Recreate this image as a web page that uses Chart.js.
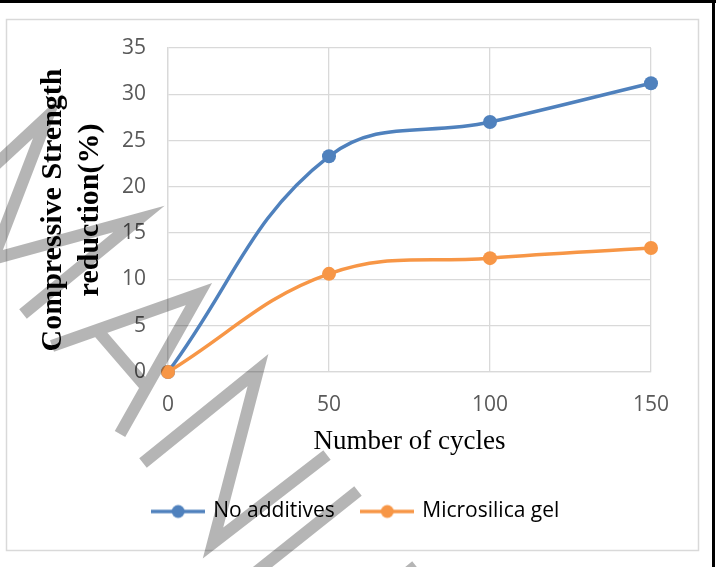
<!DOCTYPE html>
<html>
<head>
<meta charset="utf-8">
<script src="https://cdn.jsdelivr.net/npm/chart.js@4.4.0/dist/chart.umd.min.js"></script>
<style>
  html, body { margin: 0; padding: 0; background: #fff; }
  #wrap { width: 718px; height: 567px; }
</style>
</head>
<body>
<div id="wrap"><canvas id="chart" width="718" height="567"></canvas></div>
<script>
// freeze-thaw results: strength loss after N cycles
var cycles = [0, 50, 100, 150];
var noAdditives = [0, 23.3, 27.0, 31.2];
var microsilicaGel = [0, 10.6, 12.3, 13.4];
var seriesNames = ['No additives', 'Microsilica gel'];
var seriesColors = ['#4f81bd', '#f79646'];
var yTitle = ['Compressive Strength', 'reduction(%)'];
var xTitle = 'Number of cycles';

var tickFont = {family: '"Open Sans", sans-serif', size: 21};
var serif = '"Liberation Serif", "Times New Roman", serif';

// line + dot symbol used in the legend
function legendMarker(color) {
    var c = document.createElement('canvas');
    c.width = 54;
    c.height = 16;
    var g = c.getContext('2d');
    g.strokeStyle = color;
    g.lineWidth = 3.5;
    g.beginPath();
    g.moveTo(0, 8);
    g.lineTo(54, 8);
    g.stroke();
    g.fillStyle = color;
    g.beginPath();
    g.arc(27, 8, 6.5, 0, Math.PI * 2);
    g.fill();
    return c;
}
var markers = seriesColors.map(legendMarker);

function points(values) {
    return cycles.map(function (c, i) {
        return {x: c, y: values[i]};
    });
}

function series(i, values) {
    return {
        label: seriesNames[i],
        data: points(values),
        borderColor: seriesColors[i],
        backgroundColor: seriesColors[i],
        pointBackgroundColor: seriesColors[i],
        borderWidth: 3.5,
        pointRadius: 7,
        pointHoverRadius: 7,
        pointBorderWidth: 0,
        tension: 0.4,
        clip: false,
        order: i === 0 ? 1 : 0
    };
}

// "ACCEPTED MANUSCRIPT" stamp strokes across the page
var stampStrokes = [
    [[-64, 220], [48, 116], [-7, 259], [139, 219], [23, 314]],
    [[52, 346], [199, 294], [120, 434]],
    [[97, 330], [147, 388]],
    [[143, 463], [258, 370], [213, 543], [327, 455]],
    [[358, 491], [250, 577]],
    [[416, 566], [380, 595]]
];

var pageFrame = {
    id: 'pageFrame',
    beforeDraw: function (chart) {
        var ctx = chart.ctx;
        ctx.save();
        ctx.fillStyle = '#fff';
        ctx.fillRect(0, 0, chart.width, chart.height);
        ctx.strokeStyle = '#d9d9d9';
        ctx.lineWidth = 1.5;
        ctx.strokeRect(6.5, 19.5, 692, 531);
        ctx.fillStyle = '#000';
        ctx.fillRect(0, 0, 716, 3);
        ctx.fillRect(712, 0, 3, chart.height);
        ctx.restore();
    },
    afterLayout: function (chart) {
        chart.legend.left += 31;
        chart.legend.right += 31;
    },
    afterDraw: function (chart) {
        var ctx = chart.ctx;
        ctx.save();
        ctx.strokeStyle = 'rgba(0,0,0,0.29)';
        ctx.lineWidth = 12;
        ctx.lineJoin = 'miter';
        ctx.lineCap = 'butt';
        ctx.beginPath();
        stampStrokes.forEach(function (s) {
            ctx.moveTo(s[0][0], s[0][1]);
            for (var i = 1; i < s.length; i++) ctx.lineTo(s[i][0], s[i][1]);
        });
        ctx.stroke();
        ctx.restore();
    }
};

new Chart(document.getElementById('chart'), {
    type: 'line',
    data: {
        datasets: [series(0, noAdditives), series(1, microsilicaGel)]
    },
    options: {
        responsive: false,
        animation: false,
        layout: {padding: {left: 0, right: 67, top: 48, bottom: 35}},
        scales: {
            x: {
                type: 'linear',
                min: 0,
                max: 150,
                ticks: {stepSize: 50, padding: 20, color: '#595959', font: tickFont},
                grid: {color: '#d9d9d9', lineWidth: 1.3, drawTicks: false},
                border: {color: '#d9d9d9', width: 1.3},
                title: {display: true, text: xTitle, color: '#000',
                    font: {family: serif, size: 27}, padding: {bottom: 15}},
                afterFit: function (scale) { scale.height = 101; }
            },
            y: {
                min: 0,
                max: 35,
                ticks: {stepSize: 5, padding: 22, color: '#595959', font: tickFont},
                grid: {color: '#d9d9d9', lineWidth: 1.3, drawTicks: false},
                border: {color: '#d9d9d9', width: 1.3},
                title: {display: true, text: yTitle, color: '#000',
                    font: {family: serif, size: 30, weight: 'bold', lineHeight: 1.23}, padding: {top: 35}},
                afterFit: function (scale) { scale.width = 168; }
            }
        },
        plugins: {
            tooltip: {enabled: false},
            legend: {
                position: 'bottom',
                labels: {
                    usePointStyle: true,
                    pointStyleWidth: 49,
                    padding: 28,
                    color: '#595959',
                    font: tickFont,
                    generateLabels: function (chart) {
                        return chart.data.datasets.map(function (ds, i) {
                            return {
                                text: ds.label,
                                pointStyle: markers[i],
                                fillStyle: ds.borderColor,
                                strokeStyle: ds.borderColor,
                                lineWidth: 0,
                                hidden: false,
                                datasetIndex: i
                            };
                        });
                    }
                }
            }
        }
    },
    plugins: [pageFrame]
});
</script>
</body>
</html>
